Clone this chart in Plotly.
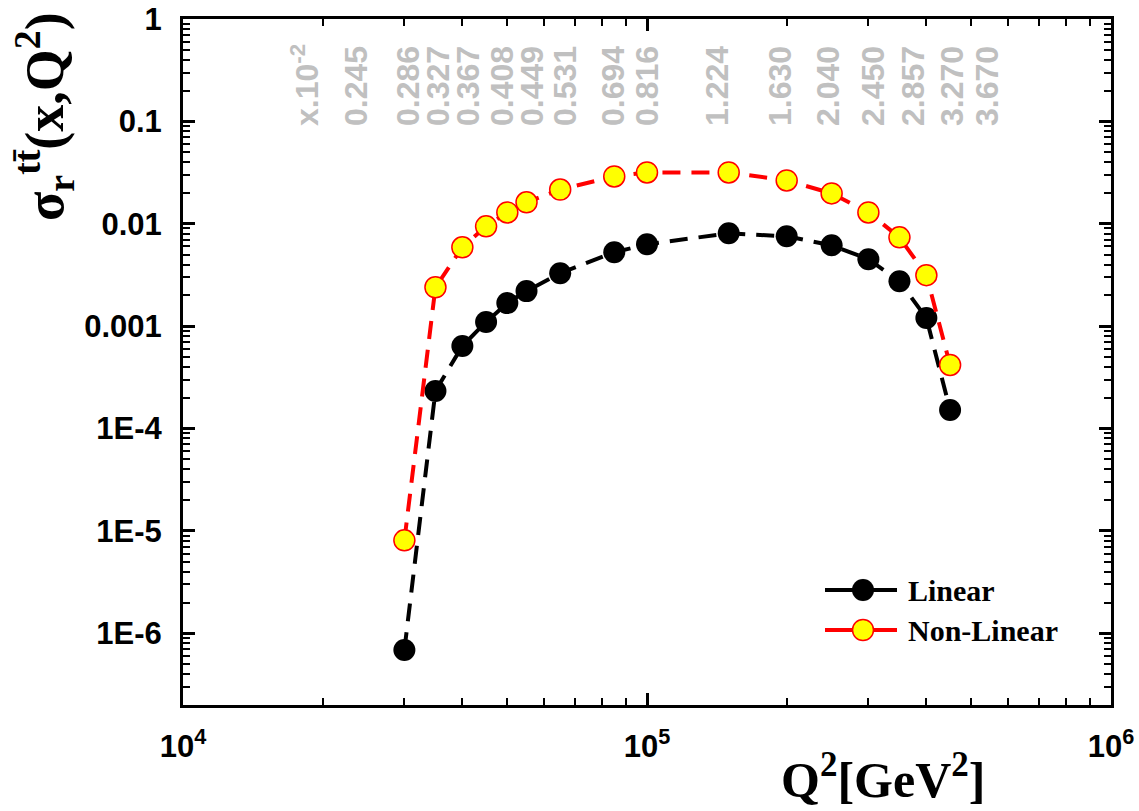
import plotly.graph_objects as go

# ---- data ----
q2 = [3.0e4, 3.5e4, 4.0e4, 4.5e4, 5.0e4, 5.5e4, 6.5e4, 8.5e4, 1.0e5,
      1.5e5, 2.0e5, 2.5e5, 3.0e5, 3.5e5, 4.0e5, 4.5e5]
linear = [6.86e-7, 2.33e-4, 6.4e-4, 1.10e-3, 1.68e-3, 2.20e-3, 3.29e-3, 5.27e-3,
          6.30e-3, 8.07e-3, 7.54e-3, 6.16e-3, 4.50e-3, 2.75e-3, 1.20e-3, 1.52e-4]
nonlinear = [8.09e-6, 2.40e-3, 5.89e-3, 9.44e-3, 1.29e-2, 1.62e-2, 2.16e-2, 2.90e-2,
             3.17e-2, 3.17e-2, 2.65e-2, 1.98e-2, 1.29e-2, 7.37e-3, 3.15e-3, 4.18e-4]

series_names = ["Linear", "Non-Linear"]

x_labels = ["x.10<sup>-2</sup>", "0.245", "0.286", "0.327", "0.367", "0.408", "0.449",
            "0.531", "0.694", "0.816", "1.224", "1.630", "2.040", "2.450", "2.857",
            "3.270", "3.670"]

y_tickvals = [1e-6, 1e-5, 1e-4, 1e-3, 1e-2, 1e-1, 1]
y_ticktext = ["1E-6", "1E-5", "1E-4", "0.001", "0.01", "0.1", "1"]
x_tickvals = [1e4, 1e5, 1e6]
x_ticktext = ["10<sup>4</sup>", "10<sup>5</sup>", "10<sup>6</sup>"]

# ---- layout geometry (pixels) ----
W, H = 1139, 811
L, R, T, B = 183, 28, 19, 106
PW, PH = W - L - R, H - T - B
# horizontal pixel positions of the grey x-value labels
label_px = [305, 356, 408, 438, 468, 502, 532, 565, 613, 647, 717, 780, 828,
            873, 913, 952, 987]


def px_x(px):
    return (px - L) / PW


def px_y(py):
    return 1 - (py - T) / PH


styles = [
    dict(line=dict(color="black", width=4, dash="18px,11px"),
         marker=dict(symbol="circle", size=22, color="black")),
    dict(line=dict(color="#ff0000", width=4, dash="18px,11px"),
         marker=dict(symbol="circle", size=21, color="#ffff00",
                     line=dict(color="#ff0000", width=1.5))),
]

fig = go.Figure()
for name, ys, st in zip(series_names, [linear, nonlinear], styles):
    fig.add_trace(go.Scatter(x=q2, y=ys, name=name, mode="lines+markers",
                             showlegend=False, hoverinfo="skip", **st))

minor_x = [m * 10 ** k for k in range(4, 6) for m in range(2, 10)]
minor_y = [m * 10.0 ** k for k in range(-7, 0) for m in range(2, 10)]

axis_common = dict(
    type="log", showline=True, linewidth=3, linecolor="black", mirror="allticks",
    ticks="inside", ticklen=12, tickwidth=3, tickcolor="black",
    showgrid=False, zeroline=False,
    tickfont=dict(family="Liberation Sans", size=31, color="black", weight="bold"),
    ticklabelstandoff=12,
)

fig.update_xaxes(
    range=[4, 6], tickmode="array", tickvals=x_tickvals, ticktext=x_ticktext,
    minor=dict(tickmode="array", tickvals=minor_x, ticks="inside", ticklen=7,
               tickwidth=2, tickcolor="black", showgrid=False),
    **axis_common,
)
fig.update_yaxes(
    range=[-6.7, 0], tickmode="array", tickvals=y_tickvals, ticktext=y_ticktext,
    minor=dict(tickmode="array", tickvals=minor_y, ticks="inside", ticklen=7,
               tickwidth=2, tickcolor="black", showgrid=False),
    **axis_common,
)

annotations = []
for txt, px in zip(x_labels, label_px):
    annotations.append(dict(
        text=txt, x=px_x(px), y=px_y(128), xref="paper", yref="paper",
        xanchor="center", yanchor="bottom", textangle=-90, showarrow=False,
        font=dict(family="Liberation Sans", size=32, color="#c0c0c0", weight="bold"),
    ))

annotations.append(dict(
    text="<b>Q<sup>2</sup>[GeV<sup>2</sup>]</b>", x=px_x(883), y=px_y(776),
    xref="paper", yref="paper", xanchor="center", yanchor="middle", showarrow=False,
    font=dict(family="Liberation Serif", size=50, color="black"),
))
annotations.append(dict(
    text="<b>σ<sub>r</sub><sup>tt\u0304</sup>(x,Q<sup>2</sup>)</b>", x=px_x(44), y=px_y(117),
    xref="paper", yref="paper", xanchor="center", yanchor="middle", textangle=-90,
    showarrow=False, font=dict(family="Liberation Serif", size=54, color="black"),
))

# ---- hand-made legend (layout only) ----
shapes = []
leg_rows = [590, 630]
for name, st, ry in zip(series_names, styles, leg_rows):
    shapes.append(dict(type="line", xref="paper", yref="paper",
                       x0=px_x(825), x1=px_x(897), y0=px_y(ry), y1=px_y(ry),
                       line=dict(color=st["line"]["color"], width=4)))
    mk = st["marker"]
    r = mk["size"] / 2
    shapes.append(dict(type="circle", xref="paper", yref="paper",
                       xsizemode="pixel", ysizemode="pixel",
                       xanchor=px_x(863), yanchor=px_y(ry),
                       x0=-r, x1=r, y0=-r, y1=r,
                       fillcolor=mk["color"],
                       line=dict(color=mk.get("line", {}).get("color", mk["color"]),
                                 width=mk.get("line", {}).get("width", 0.1))))
    annotations.append(dict(
        text="<b>" + name + "</b>", x=px_x(906), y=px_y(ry), xref="paper", yref="paper",
        xanchor="left", yanchor="middle", showarrow=False,
        font=dict(family="Liberation Serif", size=30, color="black"),
    ))

fig.update_layout(
    width=W, height=H, margin=dict(l=L, r=R, t=T, b=B, autoexpand=False),
    paper_bgcolor="white", plot_bgcolor="white",
    showlegend=False,
    annotations=annotations,
    shapes=shapes,
)

fig.write_html("out.html", config={"displayModeBar": False},
               post_script="document.body.style.margin='0';")
